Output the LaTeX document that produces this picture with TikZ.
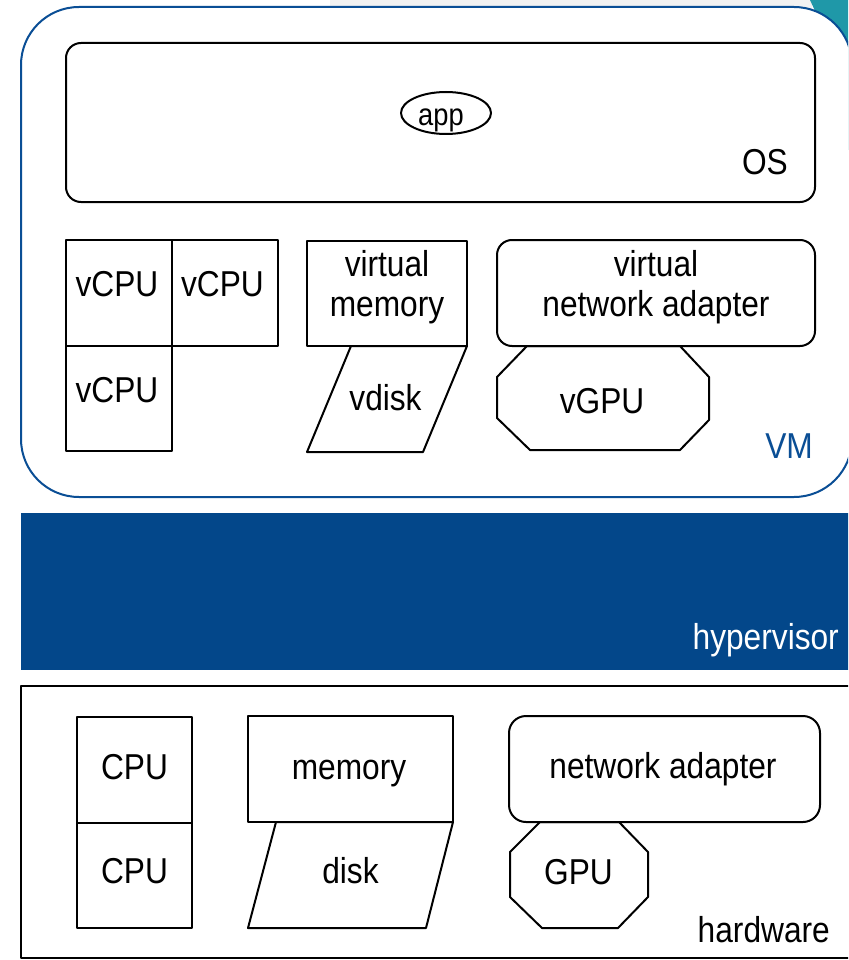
\documentclass[tikz,border=0pt]{standalone}
\usepackage{fontspec}
\setmainfont{Liberation Sans}[FakeStretch=0.88]
\usetikzlibrary{shapes.geometric}
\definecolor{hvblue}{HTML}{03478A}
\definecolor{vmblue}{HTML}{0A4E95}
\definecolor{swoosh}{HTML}{1F98A8}
\tikzset{
  unit/.style={draw=black, line width=2pt, fill=white, inner sep=0pt},
  shapeline/.style={draw=black, line width=2pt, fill=white},
  bigbox/.style={line width=2pt, fill=white, inner sep=0pt},
  lbl/.style={font=\fontsize{36}{40}\selectfont, inner sep=0pt, align=center},
  small/.style={font=\fontsize{31}{36}\selectfont, inner sep=0pt},
}
\begin{document}
\begin{tikzpicture}[x=1pt, y=-1pt, line join=round]
\useasboundingbox (0,0) rectangle (848,960);
\clip (0,0) rectangle (848,960);
\fill[white] (0,0) rectangle (848,960);

% slide background: light band and teal corner
\fill[gray!10] (330,0) rectangle (812,10);
\fill[swoosh] (810,0) -- (848,0) -- (848,150) .. controls (842,70) .. (810,0) -- cycle;

% ---------- virtual machine ----------
\node[bigbox, draw=vmblue, rounded corners=58pt,
      minimum width=831pt, minimum height=490pt] (vm) at (436.5,252) {};
\node[font=\fontsize{36}{40}\selectfont, text=vmblue, inner sep=0pt, anchor=base east]
     (vmlabel) at (813,458) {VM};

% guest OS with application
\node[unit, rounded corners=15pt, minimum width=749pt, minimum height=159pt]
     (os) at (440.5,122.5) {};
\node[lbl, anchor=base east] (oslabel) at (788,175) {OS};
\node[unit, ellipse, minimum width=90pt, minimum height=42pt] (app) at (446,113) {};
\node[small, anchor=base] (applabel) at (441,126) {app};

% virtual CPUs
\node[unit, minimum width=106pt, minimum height=106pt] (vcpu1) at (119,293) {};
\node[unit, minimum width=106pt, minimum height=106pt] (vcpu2) at (225,293) {};
\node[unit, minimum width=106pt, minimum height=105pt] (vcpu3) at (119,398.5) {};
\node[lbl, anchor=base] (vcpu1t) at (117,296) {vCPU};
\node[lbl, anchor=base] (vcpu2t) at (222.5,296) {vCPU};
\node[lbl, anchor=base] (vcpu3t) at (117,402) {vCPU};

% virtual memory and disk
\node[unit, minimum width=160pt, minimum height=105pt] (vmem) at (387,293.5) {};
\node[lbl] (vmemt) at (387,287) {virtual\\memory};
\draw[shapeline] (351,346) -- (467,346) -- (423,452) -- (307,452) -- cycle;
\node[lbl, anchor=base] (vdisk) at (385.5,410) {vdisk};

% virtual GPU and network adapter
\draw[shapeline] (527,346) -- (680,346) -- (709,377) -- (709,420)
      -- (680,450) -- (530,450) -- (497,418) -- (497,377) -- cycle;
\node[lbl, anchor=base] (vgpu) at (602,413) {vGPU};
\node[unit, rounded corners=15pt, minimum width=318pt, minimum height=106pt]
     (vnet) at (656,293) {};
\node[lbl] (vnett) at (656,287) {virtual\\network adapter};

% ---------- hypervisor ----------
\fill[hvblue] (21,513) rectangle (870,670);
\node[font=\fontsize{36}{40}\selectfont, text=white, inner sep=0pt, anchor=base east]
     (hvlabel) at (839,649) {hypervisor};

% ---------- hardware ----------
\draw[line width=2pt, fill=white] (21,686) rectangle (870,958);
\node[lbl, anchor=base east] (hwlabel) at (830,942) {hardware};

\node[unit, minimum width=115pt, minimum height=106pt] (cpu1) at (134.5,770) {};
\node[unit, minimum width=115pt, minimum height=105pt] (cpu2) at (134.5,875.5) {};
\node[lbl, anchor=base] (cpu1t) at (134.5,779) {CPU};
\node[lbl, anchor=base] (cpu2t) at (134.5,883) {CPU};

\node[unit, minimum width=205pt, minimum height=106pt] (mem) at (350.5,769) {};
\node[lbl, anchor=base] (memt) at (349,779) {memory};
\draw[shapeline] (276,822) -- (453,822) -- (426,928) -- (248,928) -- cycle;
\node[lbl, anchor=base] (disk) at (350.5,883) {disk};

\draw[shapeline] (540,822) -- (619,822) -- (648,852) -- (648,897)
      -- (618,928) -- (542,928) -- (510,897) -- (510,852) -- cycle;
\node[lbl, anchor=base] (gpu) at (578.5,884) {GPU};
\node[unit, rounded corners=17pt, minimum width=311pt, minimum height=106pt]
     (net) at (664.5,769) {};
\node[lbl, anchor=base] (nett) at (663,778) {network adapter};
\end{tikzpicture}
\end{document}
